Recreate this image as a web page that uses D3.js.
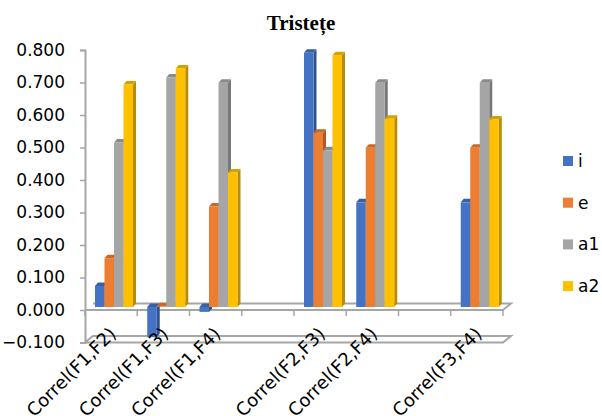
<!DOCTYPE html>
<html>
<head>
<meta charset="utf-8">
<script src="https://cdn.jsdelivr.net/npm/d3@7"></script>
<style>
  body { margin: 0; background: #fff; }
  svg { display: block; }
</style>
</head>
<body>
<svg id="chart" width="602" height="416"></svg>
<script>
"use strict";

// categories (blank rows in the source sheet are kept as empty slots)
var categories = ["Correl(F1,F2)", "Correl(F1,F3)", "Correl(F1,F4)", "",
                  "Correl(F2,F3)", "Correl(F2,F4)", "", "Correl(F3,F4)"];
var seriesNames = ["i", "e", "a1", "a2"];
var seriesColors = ["#4472C4", "#ED7D31", "#A5A5A5", "#FFC000"];

var valuesI  = [0.065, -0.093, -0.015, null, 0.782, 0.322, null, 0.322];
var valuesE  = [0.150,  0.002,  0.309, null, 0.536, 0.490, null, 0.490];
var valuesA1 = [0.506,  0.706,  0.690, null, 0.482, 0.690, null, 0.690];
var valuesA2 = [0.685,  0.734,  0.414, null, 0.775, 0.579, null, 0.577];
var yTicks = [-0.1, 0, 0.1, 0.2, 0.3, 0.4, 0.5, 0.6, 0.7, 0.8];

var allValues = [valuesI, valuesE, valuesA1, valuesA2];

var svg = d3.select("#chart");
var axisColor = "#A6A6A6";
var depth = { dx: 8, dy: -6.5 };   // floor / back wall offset
var cap = { dx: 3, dy: -3.5 };     // bar top / side offset
var barShift = -3;                 // bars stand half way into the depth

var y = d3.scaleLinear().domain([-0.1, 0.8]).range([342.5, 50]);
var x = d3.scaleBand().domain(d3.range(categories.length)).range([85, 503]);
var xs = d3.scaleBand().domain(seriesNames).range([10, 48]);

// title
svg.append("text")
  .attr("x", 301).attr("y", 30)
  .attr("text-anchor", "middle")
  .style("font-family", "'Liberation Serif', 'Times New Roman', serif")
  .style("font-weight", "bold")
  .style("font-size", "21px")
  .text("Tristețe");

// floor at -0.1
var x0 = x.range()[0], x1 = x.range()[1];
svg.append("path")
  .attr("d", "M" + x0 + "," + y(-0.1) + "L" + x1 + "," + y(-0.1) +
    "L" + (x1 + depth.dx) + "," + (y(-0.1) + depth.dy) +
    "L" + (x0 + depth.dx) + "," + (y(-0.1) + depth.dy) + "Z")
  .attr("fill", "#fff")
  .attr("stroke", axisColor)
  .attr("stroke-width", 2);

// zero plane
svg.append("path")
  .attr("d", "M" + (x0 + depth.dx) + "," + (y(0) + depth.dy) +
    "L" + (x1 + depth.dx) + "," + (y(0) + depth.dy) +
    "L" + x1 + "," + y(0) + "L" + x0 + "," + y(0))
  .attr("fill", "none")
  .attr("stroke", axisColor)
  .attr("stroke-width", 2);

// category ticks
svg.append("g")
  .selectAll("line")
  .data(d3.range(categories.length + 1))
  .enter()
  .append("line")
    .attr("x1", function(d) { return x0 + d * x.bandwidth() })
    .attr("x2", function(d) { return x0 + d * x.bandwidth() })
    .attr("y1", y(0))
    .attr("y2", y(0) + 6)
    .attr("stroke", axisColor)
    .attr("stroke-width", 1.5);

// value axis
var yAxis = svg.append("g")
  .attr("transform", "translate(" + x0 + ",0)")
  .call(d3.axisLeft(y).tickValues(yTicks).tickFormat(d3.format(".3f")).tickSize(5).tickPadding(15));
yAxis.select(".domain").attr("stroke", axisColor).attr("stroke-width", 2);
yAxis.selectAll(".tick line").attr("stroke", axisColor).attr("stroke-width", 1.5);
yAxis.selectAll("text")
  .attr("fill", "#000")
  .style("font-family", "'DejaVu Sans', sans-serif")
  .style("font-size", "17px");

// bars
var bars = [];
categories.forEach(function(c, ci) {
  seriesNames.forEach(function(s, si) {
    var v = allValues[si][ci];
    if (v === null) return;
    bars.push({ ci: ci, si: si, v: v });
  });
});

function shade(col, k) { return d3.color(col).darker(k).formatHex(); }

var barG = svg.append("g")
  .selectAll("g")
  .data(bars)
  .enter()
  .append("g");

barG.each(function(d) {
  var g = d3.select(this);
  var bx = x(d.ci) + xs(seriesNames[d.si]);
  var bw = xs.bandwidth();
  var top = Math.min(y(d.v), y(0)) + barShift;
  var bot = Math.max(y(d.v), y(0)) + barShift;
  var col = seriesColors[d.si];
  // side
  g.append("path")
    .attr("d", "M" + (bx + bw) + "," + top + "L" + (bx + bw + cap.dx) + "," + (top + cap.dy) +
      "L" + (bx + bw + cap.dx) + "," + (bot + cap.dy) + "L" + (bx + bw) + "," + bot + "Z")
    .attr("fill", shade(col, 0.9));
  // top
  g.append("path")
    .attr("d", "M" + bx + "," + top + "L" + (bx + cap.dx) + "," + (top + cap.dy) +
      "L" + (bx + bw + cap.dx) + "," + (top + cap.dy) + "L" + (bx + bw) + "," + top + "Z")
    .attr("fill", shade(col, 0.5));
  // front
  g.append("rect")
    .attr("x", bx).attr("y", top)
    .attr("width", bw).attr("height", Math.max(bot - top, 0.5))
    .attr("fill", col);
});

// category labels
svg.append("g")
  .selectAll("text")
  .data(categories)
  .enter()
  .append("text")
    .attr("text-anchor", "end")
    .attr("transform", function(d, i) {
      return "translate(" + (x(i) + x.bandwidth() / 2 + 6) + ",335) rotate(-45)";
    })
    .style("font-family", "'DejaVu Sans', sans-serif")
    .style("font-size", "18px")
    .text(function(d) { return d });

// legend
var legend = svg.append("g")
  .selectAll("g")
  .data(seriesNames)
  .enter()
  .append("g")
    .attr("transform", function(d, i) { return "translate(563," + (156 + i * 41.7) + ")" });

legend.append("rect")
  .attr("width", 10).attr("height", 10)
  .attr("fill", function(d, i) { return seriesColors[i] });
legend.append("text")
  .attr("x", 15).attr("y", 11)
  .style("font-family", "'DejaVu Sans', sans-serif")
  .style("font-size", "17px")
  .text(function(d) { return d });
</script>
</body>
</html>
